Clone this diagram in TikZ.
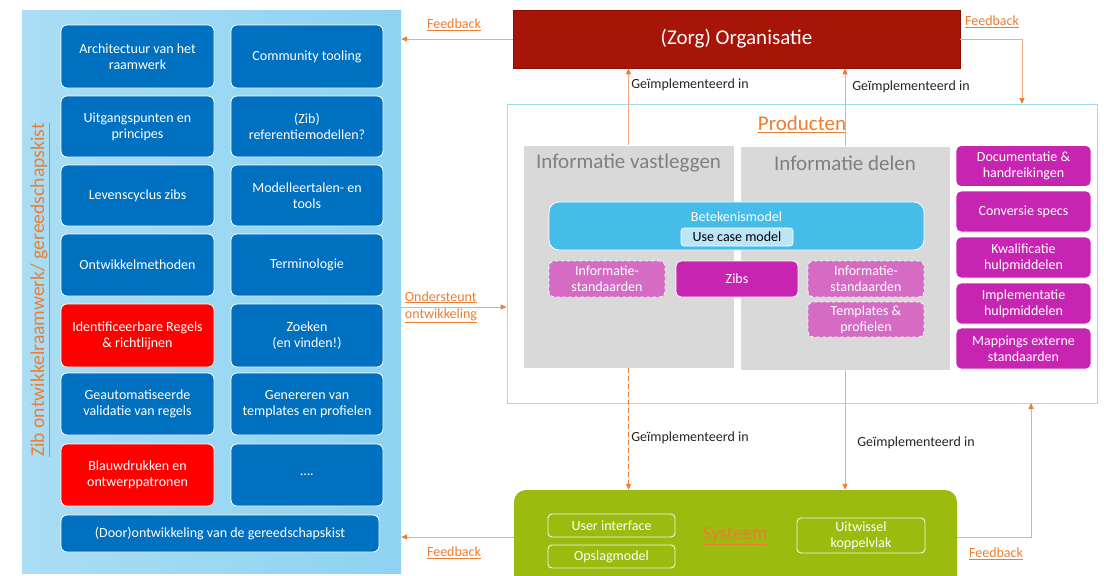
\documentclass[tikz,border=0pt]{standalone}
\usepackage{fontspec}
\setmainfont{Carlito}
\usetikzlibrary{calc,arrows.meta}
\definecolor{zblue}{HTML}{0070C0}
\definecolor{zred}{HTML}{FF0000}
\definecolor{orgred}{HTML}{A71408}
\definecolor{zorange}{HTML}{ED7D31}
\definecolor{lorange}{HTML}{F4AA80}
\definecolor{zgray}{HTML}{D9D9D9}
\definecolor{tgray}{HTML}{7F7F7F}
\definecolor{cyanb}{HTML}{45BDE8}
\definecolor{ucm}{HTML}{BDE5F8}
\definecolor{zmag}{HTML}{C724B1}
\definecolor{lmag}{HTML}{D56BC3}
\definecolor{zgreen}{HTML}{9BBB0E}
\definecolor{pborder}{HTML}{9CDCF5}
\definecolor{lpl}{HTML}{AADDF4}
\definecolor{lpr}{HTML}{8DD3F2}
\tikzset{
  box/.style={rounded corners=6pt, draw=white, line width=0.8pt, text=white, align=center, inner sep=2pt, font=\fontsize{14}{16}\selectfont},
  bluebox/.style={box, fill=zblue},
  redbox/.style={box, fill=zred},
  magbox/.style={box, fill=zmag, rounded corners=5pt},
  dashbox/.style={box, fill=lmag, dashed, rounded corners=5pt},
  outbox/.style={draw=white!90!zgreen, line width=0.9pt, rounded corners=4pt, text=white, align=center, font=\fontsize{14}{16}\selectfont},
  graybox/.style={fill=zgray, draw=white, line width=0.6pt},
  arr/.style={draw=lorange, line width=0.9pt, -{Triangle[length=6pt,width=5pt,color=zorange]}},
  darr/.style={draw=zorange, line width=0.9pt, dashed, dash pattern=on 5pt off 3pt, -{Triangle[length=6pt,width=5pt,color=zorange]}},
  lbl/.style={font=\fontsize{14}{16}\selectfont, text=black!85},
  fb/.style={font=\fontsize{14}{16}\selectfont, text=zorange},
}
\begin{document}
\begin{tikzpicture}[x=1pt,y=-1pt]
\useasboundingbox[fill=white] (0,0) rectangle (1104,576);
% left panel
\node[left color=lpl, right color=lpr, draw=none, minimum width=379pt, minimum height=563pt, inner sep=0pt] (panel) at (211.5,291.5) {};
\node[rotate=90, text=zorange, font=\fontsize{19.6}{22}\selectfont] (ptitle) at (40,290) {\underline{Zib ontwikkelraamwerk/ gereedschapskist}};
% left column
\node[bluebox, minimum width=153pt, minimum height=63pt] (a1) at (137.5,56.5) {Architectuur van het\\raamwerk};
\node[bluebox, minimum width=153pt, minimum height=61pt] (a2) at (137.5,126.5) {Uitgangspunten en\\principes};
\node[bluebox, minimum width=153pt, minimum height=61pt] (a3) at (137.5,195.5) {Levenscyclus zibs};
\node[bluebox, minimum width=153pt, minimum height=62pt] (a4) at (137.5,265) {Ontwikkelmethoden};
\node[redbox, minimum width=153pt, minimum height=63pt] (a5) at (137.5,335.5) {Identificeerbare Regels\\\& richtlijnen};
\node[bluebox, minimum width=153pt, minimum height=62pt] (a6) at (137.5,404) {Geautomatiseerde\\validatie van regels};
\node[redbox, minimum width=153pt, minimum height=62pt] (a7) at (137.5,475) {Blauwdrukken en\\ontwerppatronen};
% right column
\node[bluebox, minimum width=152pt, minimum height=63pt] (b1) at (307,56.5) {Community tooling};
\node[bluebox, minimum width=152pt, minimum height=61pt] (b2) at (307,126.5) {(Zib)\\referentiemodellen?};
\node[bluebox, minimum width=152pt, minimum height=61pt] (b3) at (307,195.5) {Modelleertalen- en\\tools};
\node[bluebox, minimum width=152pt, minimum height=62pt] (b4) at (307,265) {Terminologie};
\node[bluebox, minimum width=152pt, minimum height=63pt] (b5) at (307,335.5) {Zoeken\\(en vinden!)};
\node[bluebox, minimum width=152pt, minimum height=62pt] (b6) at (307,404) {Genereren van\\templates en profielen};
\node[bluebox, minimum width=152pt, minimum height=62pt] (b7) at (307,475) {\dots.};
\node[bluebox, minimum width=318pt, minimum height=37pt] (c1) at (220,533.5) {(Door)ontwikkeling van de gereedschapskist};
% organisation
\node[fill=orgred, draw=orgred!80!black, line width=0.6pt, minimum width=447pt, minimum height=58pt, text=white, font=\fontsize{21}{24}\selectfont] (org) at (736.5,39) {(Zorg) Organisatie};
% products
\node[draw=pborder, line width=0.9pt, minimum width=590pt, minimum height=299pt, inner sep=0pt] (prod) at (802,253.5) {};
\node[text=zorange, font=\fontsize{21}{24}\selectfont] (ptl) at (802,124) {\underline{Producten}};
\node[graybox, minimum width=211pt, minimum height=223pt, inner sep=0pt] (gv) at (628.5,256.5) {};
\node[graybox, minimum width=210pt, minimum height=224pt, inner sep=0pt] (gd) at (845,258) {};
\node[text=tgray, font=\fontsize{21}{24}\selectfont] (gvt) at (628.5,163) {Informatie vastleggen};
\node[text=tgray, font=\fontsize{21}{24}\selectfont] (gdt) at (845,163) {Informatie delen};
\node[fill=cyanb, draw=white, line width=0.8pt, rounded corners=10pt, minimum width=375pt, minimum height=48pt, inner sep=0pt] (bm) at (736.5,226) {};
\node[text=white, font=\fontsize{14}{16}\selectfont] (bmt) at (736.5,217) {Betekenismodel};
\node[fill=ucm, draw=white, line width=0.6pt, rounded corners=3pt, minimum width=112pt, minimum height=18pt, inner sep=0pt, font=\fontsize{14}{16}\selectfont] (uc) at (737,237) {Use case model};
\node[dashbox, minimum width=116pt, minimum height=36pt] (is1) at (607,279) {Informatie-\\standaarden};
\node[magbox, minimum width=122pt, minimum height=36pt] (zibs) at (737,279) {Zibs};
\node[dashbox, minimum width=116pt, minimum height=36pt] (is2) at (866,279) {Informatie-\\standaarden};
\node[dashbox, minimum width=116pt, minimum height=35pt] (tp) at (866,319.5) {Templates \&\\profielen};
% right magenta column
\node[magbox, minimum width=135pt, minimum height=41pt] (m1) at (1023.5,166) {Documentatie \&\\handreikingen};
\node[magbox, minimum width=135pt, minimum height=41pt] (m2) at (1023.5,211.5) {Conversie specs};
\node[magbox, minimum width=135pt, minimum height=41pt] (m3) at (1023.5,257.5) {Kwalificatie\\hulpmiddelen};
\node[magbox, minimum width=135pt, minimum height=41pt] (m4) at (1023.5,303.5) {Implementatie\\hulpmiddelen};
\node[magbox, minimum width=135pt, minimum height=41pt] (m5) at (1023.5,348.5) {Mappings externe\\standaarden};
% system
\node[fill=zgreen, rounded corners=12pt, minimum width=443pt, minimum height=100pt, inner sep=0pt] (sys) at (735.5,540) {};
\node[text=zorange, font=\fontsize{19}{22}\selectfont] (syst) at (735,536) {\underline{Systeem}};
\node[outbox, minimum width=127pt, minimum height=23pt, inner sep=0pt] (ui) at (611.5,525.5) {User interface};
\node[outbox, minimum width=127pt, minimum height=23pt, inner sep=0pt] (om) at (611.5,556.5) {Opslagmodel};
\node[outbox, minimum width=128pt, minimum height=35pt, inner sep=0pt] (uk) at (861,535.5) {Uitwissel\\koppelvlak};
% connectors
\coordinate (fbr) at (1022,104);
\coordinate (fbbr) at (1031,403);
\draw[arr] (org.west) -- (org.west -| panel.east);
\node[fb] (fb1) at (454,25) {\underline{Feedback}};
\draw[arr] (org.east) -| (fbr);
\node[fb] (fb2) at (992,22) {\underline{Feedback}};
\draw[arr] (gv.north) -- (gv.north |- org.south);
\node[lbl] (g1) at (690,85) {Geïmplementeerd in};
\draw[arr] (gd.north) -- (gd.north |- org.south);
\node[lbl] (g2) at (911,87) {Geïmplementeerd in};
\draw[darr] (gv.south) -- (gv.south |- sys.north);
\node[lbl] (g3) at (690,438) {Geïmplementeerd in};
\draw[arr] (gd.south) -- (gd.south |- sys.north);
\node[lbl] (g4) at (916,443) {Geïmplementeerd in};
\draw[arr] (panel.east |- 0,307) -- (prod.west |- 0,307);
\node[fb, align=left] (ond) at (441,307) {\underline{Ondersteunt}\\[1pt]\underline{ontwikkeling}};
\draw[arr] (sys.west |- 0,537) -- (panel.east |- 0,537);
\node[fb] (fb3) at (454,553) {\underline{Feedback}};
\draw[arr] (sys.east |- 0,537) -| (fbbr);
\node[fb] (fb4) at (996,554) {\underline{Feedback}};
\end{tikzpicture}
\end{document}
